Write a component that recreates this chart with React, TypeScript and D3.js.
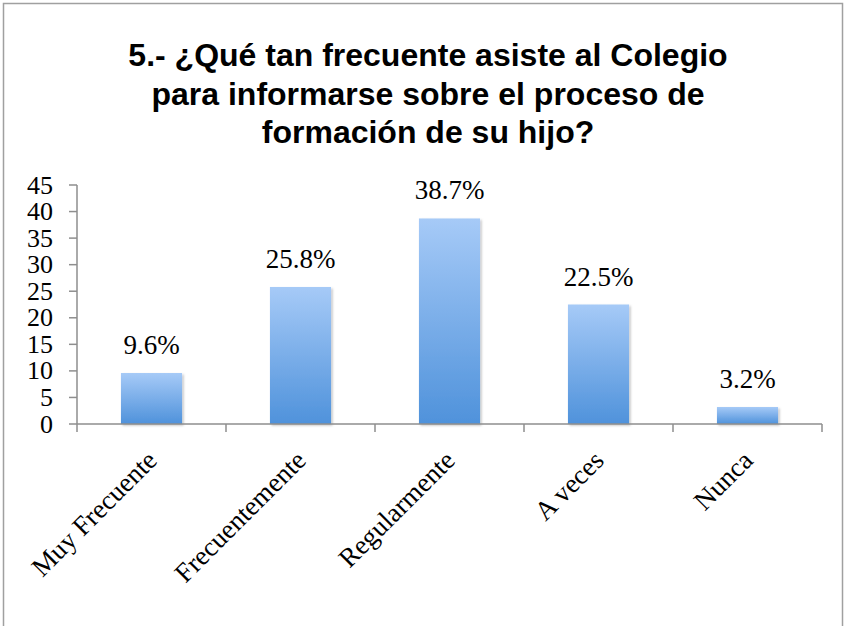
import React from "react";
import * as d3 from "d3";

const categories = ["Muy Frecuente", "Frecuentemente", "Regularmente", "A veces", "Nunca"];
const values = [9.6, 25.8, 38.7, 22.5, 3.2];
const valueLabels = ["9.6%", "25.8%", "38.7%", "22.5%", "3.2%"];
const yTicks = [0, 5, 10, 15, 20, 25, 30, 35, 40, 45];
const titleLines = [
  "5.- ¿Qué tan frecuente asiste al Colegio",
  "para informarse sobre el proceso de",
  "formación de su hijo?",
];

const W = 845;
const H = 626;
const left = 77;
const right = 822;
const top = 185;
const bottom = 424;

export default function App() {
  const x = d3.scaleBand<string>().domain(categories).range([left, right]).paddingInner(0).paddingOuter(0);
  const y = d3.scaleLinear().domain([0, 45]).range([bottom, top]);
  const bw = x.bandwidth() * 0.41;
  const axisColor = "#8e8e8e";
  const serif = "'Liberation Serif', 'DejaVu Serif', serif";
  const bounds = [...categories.map((c) => x(c) as number), right];
  return (
    <svg width={W} height={H} style={{ position: "fixed", left: 0, top: 0 }}>
      <defs>
        <linearGradient id="barGrad" x1="0" y1="0" x2="0" y2="1">
          <stop offset="0%" stopColor="#a6caf7" />
          <stop offset="100%" stopColor="#4f92db" />
        </linearGradient>
        <filter id="sh" x="-20%" y="-20%" width="140%" height="140%">
          <feDropShadow dx="1.5" dy="1.5" stdDeviation="1.2" floodColor="#000" floodOpacity="0.25" />
        </filter>
      </defs>
      <rect x={0} y={0} width={W} height={H} fill="#fff" />
      <rect x={3.5} y={3.5} width={839} height={H + 10} fill="none" stroke="#a0a0a0" strokeWidth={1.5} />
      {titleLines.map((t, i) => (
        <text
          key={i}
          x={428}
          y={66 + i * 38.5}
          textAnchor="middle"
          fontFamily="'Liberation Sans', Arial, sans-serif"
          fontWeight="bold"
          fontSize={32}
          fill="#000"
        >
          {t}
        </text>
      ))}
      {categories.map((c, i) => {
        const cx = (x(c) as number) + x.bandwidth() / 2;
        return (
          <g key={c}>
            <rect
              x={cx - bw / 2}
              y={y(values[i])}
              width={bw}
              height={bottom - y(values[i])}
              fill="url(#barGrad)"
              filter="url(#sh)"
            />
            <text x={cx} y={y(values[i]) - 19} textAnchor="middle" fontFamily={serif} fontSize={27} fill="#000">
              {valueLabels[i]}
            </text>
            <text
              transform={`translate(${cx + 7},${bottom + 38}) rotate(-45)`}
              textAnchor="end"
              fontFamily={serif}
              fontSize={27}
              fill="#000"
            >
              {c}
            </text>
          </g>
        );
      })}
      <line x1={left} y1={top} x2={left} y2={bottom} stroke={axisColor} strokeWidth={1.5} />
      {yTicks.map((t) => (
        <g key={t}>
          <line x1={left - 8} x2={left} y1={y(t)} y2={y(t)} stroke={axisColor} strokeWidth={1.5} />
          <text x={53} y={y(t)} dy="0.33em" textAnchor="end" fontFamily={serif} fontSize={26} fill="#000">
            {t}
          </text>
        </g>
      ))}
      <line x1={left} y1={bottom} x2={right} y2={bottom} stroke={axisColor} strokeWidth={1.5} />
      {bounds.map((b, i) => (
        <line key={i} x1={b} x2={b} y1={bottom} y2={bottom + 8} stroke={axisColor} strokeWidth={1.5} />
      ))}
    </svg>
  );
}
